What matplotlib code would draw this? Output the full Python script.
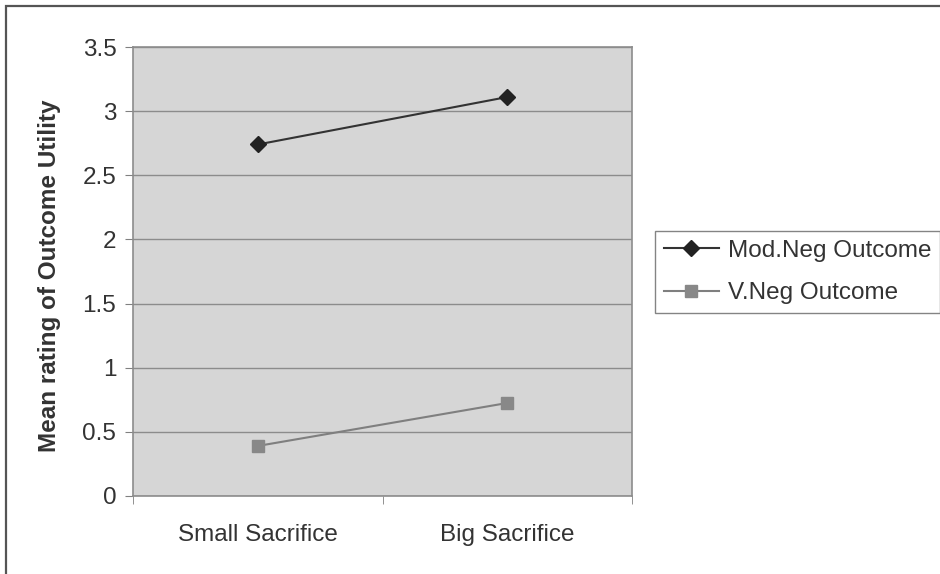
import matplotlib.pyplot as plt
from matplotlib.patches import Rectangle

plt.rcParams['font.family'] = ['Liberation Sans', 'DejaVu Sans']

# mean ratings per condition
conditions = ['Small Sacrifice', 'Big Sacrifice']
mod_neg = [2.74, 3.11]
v_neg = [0.39, 0.725]
yticks = [0, 0.5, 1, 1.5, 2, 2.5, 3, 3.5]

fig = plt.figure(figsize=(9.4, 5.74), dpi=100)
fig.patch.set_facecolor('white')

# outer chart frame (runs off right/bottom edge)
fig.patches.append(Rectangle((6 / 940, -0.02), 1.0, 1 - 6 / 574 + 0.02,
                             transform=fig.transFigure, fill=False,
                             edgecolor='#555555', linewidth=1.6))

ax = fig.add_axes([133 / 940, 78 / 574, 499 / 940, 449 / 574])
ax.set_facecolor('#d6d6d6')

x = list(range(len(conditions)))
ax.plot(x, mod_neg, color='#333333', linewidth=1.5, marker='D',
        markersize=8.5, markerfacecolor='#222222', markeredgecolor='#222222',
        label='Mod.Neg Outcome')
ax.plot(x, v_neg, color='#7f7f7f', linewidth=1.5, marker='s',
        markersize=8, markerfacecolor='#888888', markeredgecolor='#888888',
        label='V.Neg Outcome')

ax.set_ylim(0, 3.5)
ax.set_yticks(yticks)
ax.set_yticklabels([('%g' % v) for v in yticks])
ax.yaxis.grid(True, color='#8c8c8c', linewidth=1.0)
ax.set_axisbelow(True)

ax.set_xlim(-0.5, 1.5)
ax.set_xticks(x)
ax.set_xticklabels(conditions)
ax.set_xticks([-0.5, 0.5, 1.5], minor=True)
ax.tick_params(axis='x', which='major', length=0, pad=20,
               labelsize=17.5, labelcolor='#333333')
ax.tick_params(axis='x', which='minor', length=6, color='#808080')
ax.tick_params(axis='y', length=6, color='#808080', pad=6,
               labelsize=17.5, labelcolor='#333333')

for s in ax.spines.values():
    s.set_color('#8c8c8c')
    s.set_linewidth(1.2)

ax.set_ylabel('Mean rating of Outcome Utility', fontsize=17.5,
              fontweight='bold', color='#333333')
ax.yaxis.set_label_coords(-0.145, 0.49)

leg = fig.legend(loc='upper left', bbox_to_anchor=(655 / 940, 1 - 231 / 574),
                 fontsize=17.5, frameon=True, fancybox=False,
                 handlelength=2.3, handletextpad=0.35, borderpad=0.35,
                 labelspacing=0.85, borderaxespad=0)
leg.get_frame().set_edgecolor('#666666')
leg.get_frame().set_linewidth(1.0)
for t in leg.get_texts():
    t.set_color('#333333')

fig.savefig('out.png', dpi=100)
